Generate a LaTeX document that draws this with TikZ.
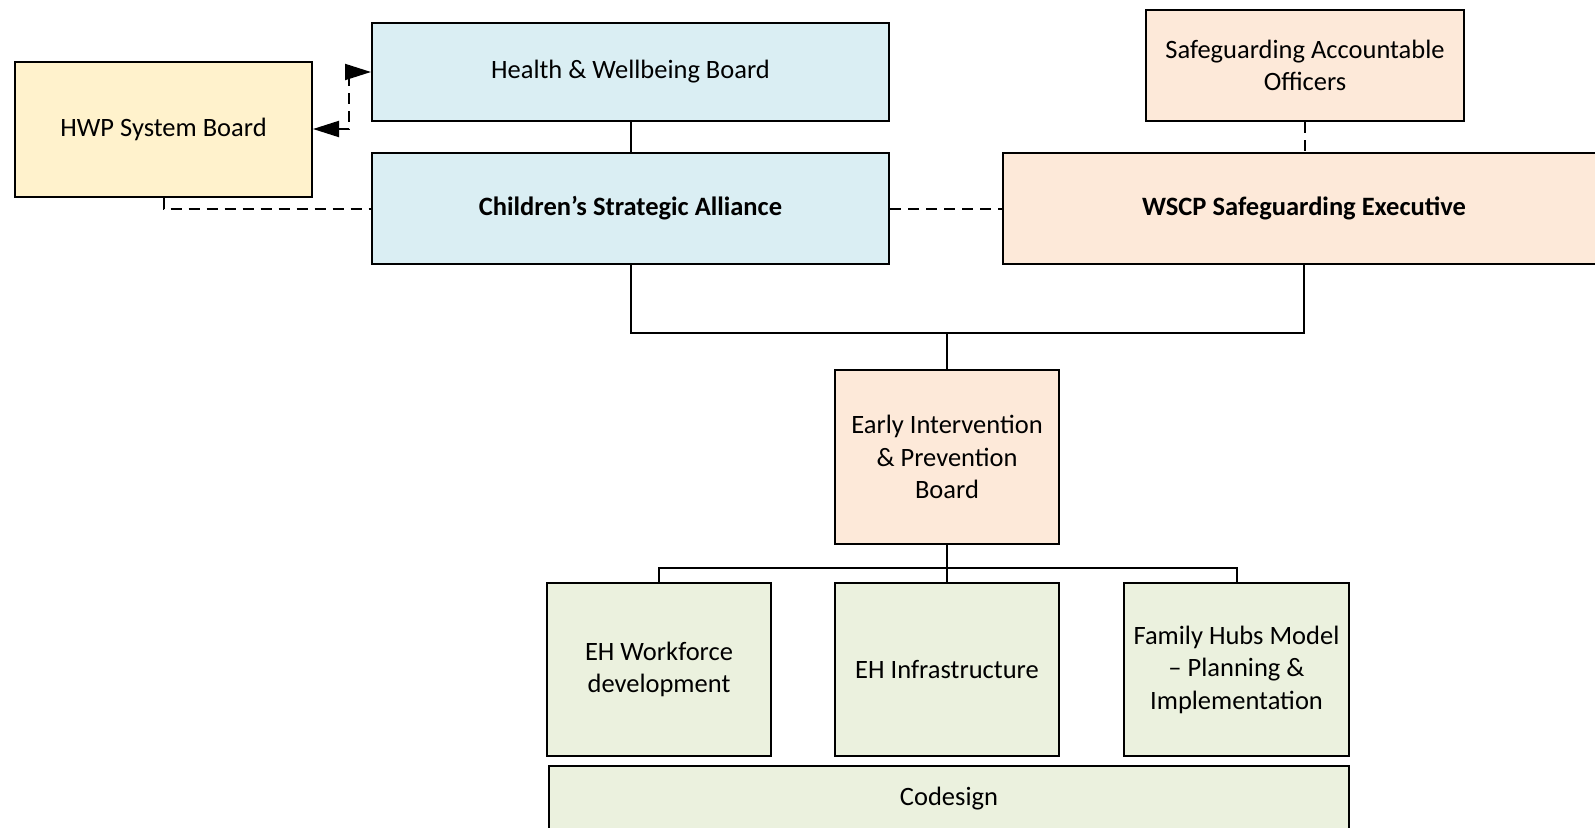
\documentclass[tikz,border=0pt]{standalone}
\usepackage{fontspec}
\setmainfont{Carlito}
\usetikzlibrary{arrows.meta}
\definecolor{bluefill}{HTML}{DAEEF3}
\definecolor{creamfill}{HTML}{FFF2CC}
\definecolor{peachfill}{HTML}{FDE9D9}
\definecolor{greenfill}{HTML}{EBF1DE}
\tikzset{
  box/.style={draw, line width=2pt, inner sep=0pt, align=center,
    font=\fontsize{26.5}{32.5}\selectfont},
  conn/.style={line width=2pt},
  dconn/.style={line width=2pt, dash pattern=on 11pt off 7pt},
  tip/.tip={Triangle[length=26pt,width=16pt]}
}
\begin{document}
\begin{tikzpicture}[x=1pt,y=-1pt]
\useasboundingbox (0,0) rectangle (1595,827);
\clip (0,0) rectangle (1595,827);
\fill[white] (0,0) rectangle (1595,827);
\node[box, fill=creamfill, minimum width=297pt, minimum height=135pt] (hwp) at (163.5,129) {HWP System Board};
\node[box, fill=bluefill, minimum width=517pt, minimum height=98pt] (hwb) at (630.5,72) {Health \& Wellbeing Board};
\node[box, fill=bluefill, minimum width=517pt, minimum height=111pt] (csa) at (630.5,208.5) {\bfseries Children’s Strategic Alliance};
\node[box, fill=peachfill, minimum width=318pt, minimum height=111pt] (sao) at (1305,65.5) {Safeguarding Accountable\\Officers};
\node[box, fill=peachfill, minimum width=602pt, minimum height=111pt] (wscp) at (1304,208.5) {\bfseries WSCP Safeguarding Executive};
\node[box, fill=peachfill, minimum width=224pt, minimum height=174pt] (eip) at (947,457) {Early Intervention\\\& Prevention\\Board};
\node[box, fill=greenfill, minimum width=224pt, minimum height=173pt] (ehw) at (659,669.5) {EH Workforce\\development};
\node[box, fill=greenfill, minimum width=224pt, minimum height=173pt] (ehi) at (947,669.5) {EH Infrastructure};
\node[box, fill=greenfill, minimum width=225pt, minimum height=173pt] (fhm) at (1236.5,669.5) {Family Hubs Model\\– Planning \&\\Implementation};
\node[box, fill=greenfill, minimum width=800pt, minimum height=80pt] (cod) at (949,806) {\raisebox{20pt}{Codesign}};
\coordinate (j) at (947,333);
\coordinate (k) at (947,568);
\coordinate (bend) at (349,100);
\draw[conn] (hwb.south) -- (csa.north);
\draw[conn] (csa.south) |- (j) -| (wscp.south);
\draw[conn] (j) -- (eip.north);
\draw[conn] (eip.south) -- (k);
\draw[conn] (ehw.north) |- (k) -| (fhm.north);
\draw[conn] (k) -- (ehi.north);
\draw[dconn] (sao.south) -- (sao.south |- wscp.north);
\draw[dconn] (csa.east) -- (wscp.west);
\draw[dconn] (hwp.south) |- (csa.west);
\draw[dconn, tip-tip] (hwp.east) -- (hwp.east -| bend) -- (bend |- hwb.west) -- (hwb.west);
\end{tikzpicture}
\end{document}
